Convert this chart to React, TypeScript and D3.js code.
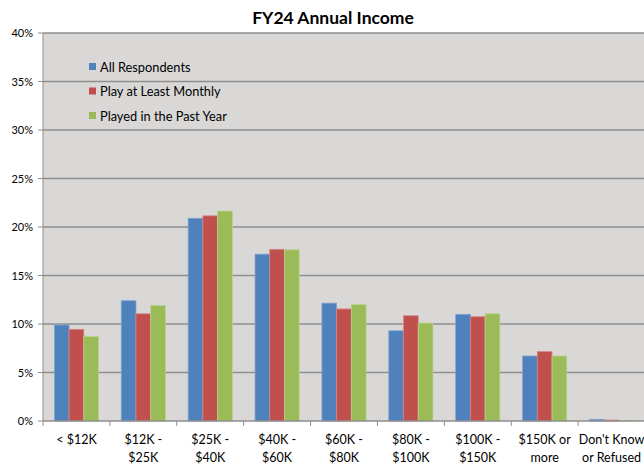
import React from "react";
import * as d3 from "d3";

const categories = [
  ["< $12K"],
  ["$12K -", "$25K"],
  ["$25K -", "$40K"],
  ["$40K -", "$60K"],
  ["$60K -", "$80K"],
  ["$80K -", "$100K"],
  ["$100K -", "$150K"],
  ["$150K or", "more"],
  ["Don't Know", "or Refused"],
];
const seriesNames = ["All Respondents", "Play at Least Monthly", "Played in the Past Year"];
const allRespondents = [9.9, 12.4, 20.9, 17.2, 12.15, 9.3, 11.0, 6.7, 0.17];
const playMonthly = [9.45, 11.05, 21.15, 17.7, 11.55, 10.85, 10.75, 7.15, 0.1];
const playedPastYear = [8.7, 11.9, 21.65, 17.65, 12.0, 10.1, 11.05, 6.7, 0.05];
const yTicks = [0, 5, 10, 15, 20, 25, 30, 35, 40];
const colors = ["#4F81BD", "#C0504D", "#9BBB59"];
const borders = ["#7FA3D2", "#D68683", "#B9D28A"];

export default function App() {
  const W = 644, H = 466;
  const left = 43, right = 645, top = 33, bottom = 421;
  const series = [allRespondents, playMonthly, playedPastYear];
  const x = d3.scaleBand<number>().domain(d3.range(categories.length)).range([left, right]).paddingInner(0.34).paddingOuter(0.17);
  const x1 = d3.scaleBand<number>().domain([0, 1, 2]).range([0, x.bandwidth()]);
  const y = d3.scaleLinear().domain([0, 40]).range([bottom, top]);
  const step = (right - left) / categories.length;
  const font = "Lato, 'Open Sans', sans-serif";
  return (
    <svg width={W} height={H} style={{ position: "absolute", left: 0, top: 0, background: "#fff" }} fontFamily={font}>
      <rect x={left} y={top} width={right - left} height={bottom - top} fill="#D9D8D6" />
      {yTicks.map((t) => (
        <g key={t}>
          {t > 0 && <line x1={left} x2={right} y1={y(t)} y2={y(t)} stroke="#8E8E8E" strokeWidth={1.5} />}
          <line x1={left - 5} x2={left} y1={y(t)} y2={y(t)} stroke="#8E8E8E" strokeWidth={1} />
          <text x={left - 10} y={y(t) + 4} textAnchor="end" fontSize={11} fill="#000">{t}%</text>
        </g>
      ))}
      {categories.map((c, i) => (
        <g key={i}>
          {series.map((s, j) => (
            <rect key={j} x={(x(i) as number) + (x1(j) as number)} y={y(s[i])} width={x1.bandwidth()} height={bottom - y(s[i])}
              fill={colors[j]} stroke={borders[j]} strokeWidth={0.8} />
          ))}
          {c.map((line, k) => (
            <text key={k} x={left + step * (i + 0.5)} y={444 + k * 18} textAnchor="middle" fontSize={12.5} fill="#000">{line}</text>
          ))}
        </g>
      ))}
      {d3.range(categories.length + 1).map((i) => (
        <line key={i} x1={left + step * i} x2={left + step * i} y1={bottom} y2={bottom + 5} stroke="#8E8E8E" strokeWidth={1} />
      ))}
      <line x1={left} x2={left} y1={top} y2={bottom} stroke="#8E8E8E" strokeWidth={1} />
      <line x1={left} x2={right} y1={bottom} y2={bottom} stroke="#8E8E8E" strokeWidth={1.5} />
      {seriesNames.map((n, j) => (
        <g key={n}>
          <rect x={89} y={63 + j * 24.5} width={7} height={7} fill={colors[j]} />
          <text x={100} y={71.5 + j * 24.5} fontSize={12.8} fill="#000">{n}</text>
        </g>
      ))}
      <text x={333} y={24} textAnchor="middle" fontSize={17.5} fontWeight="bold" fill="#000">FY24 Annual Income</text>
    </svg>
  );
}
